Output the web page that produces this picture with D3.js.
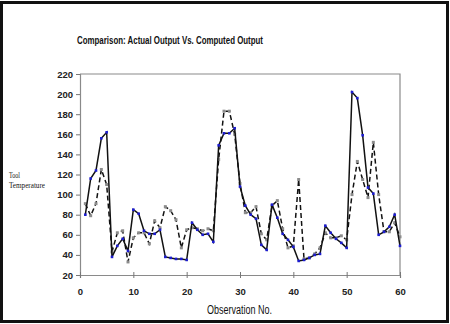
<!DOCTYPE html>
<html>
<head>
<meta charset="utf-8">
<script src="https://cdn.jsdelivr.net/npm/d3@7"></script>
<style>
  body { margin: 0; background: #fff; }
  svg { display: block; }
</style>
</head>
<body>
<div id="chart"></div>
<script>
/* values, observation 1..60 */
var actual = [80, 116, 124, 156, 162, 38, 49, 56, 44, 85,
              81, 64, 61, 61, 65, 38, 37, 36, 36, 35,
              72, 65, 60, 61, 53, 149, 161, 161, 166, 108,
              89, 80, 76, 50, 45, 90, 77, 61, 55, 48,
              34, 35, 37, 40, 41, 69, 62, 56, 52, 47,
              202, 196, 159, 107, 101, 60, 63, 68, 80, 49];
var computed = [91, 79, 91, 125, 110, 43, 62, 64, 33, 57,
                62, 62, 51, 74, 67, 88, 84, 75, 47, 65,
                67, 66, 64, 66, 64, 135, 183, 183, 160, 111,
                82, 82, 88, 61, 55, 89, 94, 66, 47, 49,
                115, 36, 37, 41, 47, 62, 57, 57, 59, 55,
                100, 133, 115, 97, 152, 100, 63, 63, 72, 58];
var xTicks = [0, 10, 20, 30, 40, 50, 60];
var yTicks = [20, 40, 60, 80, 100, 120, 140, 160, 180, 200, 220];

var W = 450, H = 324;
var svg = d3.select("#chart").append("svg")
    .attr("width", W).attr("height", H);

/* outer frame */
svg.append("rect")
    .attr("x", 1.5).attr("y", 2.5)
    .attr("width", 446).attr("height", 319)
    .attr("fill", "#fff").attr("stroke", "#111").attr("stroke-width", 3);

var x = d3.scaleLinear().domain([0, 60]).range([80, 400]);
var y = d3.scaleLinear().domain([20, 220]).range([275, 74]);

var narrow = "'Liberation Sans Narrow', 'Arial Narrow', 'Liberation Sans', Arial, sans-serif";

/* plot frame: top + right */
svg.append("path")
    .attr("d", "M" + x(0) + "," + y(220) + "H" + x(60) + "V" + y(20))
    .attr("fill", "none").attr("stroke", "#8a8a8a").attr("stroke-width", 1.2);

/* axes */
var yAxis = svg.append("g")
    .attr("transform", "translate(" + x(0) + ",0)")
    .call(d3.axisLeft(y).tickValues(yTicks).tickSize(4).tickPadding(3));
var xAxis = svg.append("g")
    .attr("transform", "translate(0," + y(20) + ")")
    .call(d3.axisBottom(x).tickValues(xTicks).tickSize(3).tickPadding(10));

[xAxis, yAxis].forEach(function (g) {
  g.select(".domain").attr("stroke", "#8a8a8a").attr("stroke-width", 1.2);
  g.selectAll(".tick line").attr("stroke", "#777");
  g.selectAll(".tick text")
      .style("font-family", narrow)
      .style("font-size", "9.5px")
      .style("font-weight", "bold")
      .attr("fill", "#222");
});
xAxis.selectAll(".tick line").attr("y1", -3);

/* lines */
var line = d3.line()
    .x(function (d, i) { return x(i + 1); })
    .y(function (d) { return y(d); });

svg.append("path").datum(computed)
    .attr("d", line)
    .attr("fill", "none").attr("stroke", "#111")
    .attr("stroke-width", 1.5).attr("stroke-dasharray", "5,3");

svg.selectAll("rect.comp").data(computed).enter().append("rect")
    .attr("class", "comp")
    .attr("x", function (d, i) { return x(i + 1) - 1.5; })
    .attr("y", function (d) { return y(d) - 1.5; })
    .attr("width", 3).attr("height", 3)
    .attr("fill", "#8c8c8c");

svg.append("path").datum(actual)
    .attr("d", line)
    .attr("fill", "none").attr("stroke", "#111")
    .attr("stroke-width", 1.5);

svg.selectAll("rect.act").data(actual).enter().append("rect")
    .attr("class", "act")
    .attr("x", function (d, i) { return x(i + 1) - 1.3; })
    .attr("y", function (d) { return y(d) - 1.3; })
    .attr("width", 2.6).attr("height", 2.6)
    .attr("fill", "#1c1cd0");

/* texts */
svg.append("text")
    .attr("x", 77).attr("y", 44)
    .attr("textLength", 186).attr("lengthAdjust", "spacingAndGlyphs")
    .style("font-family", narrow)
    .style("font-size", "11.5px")
    .style("font-weight", "bold")
    .attr("fill", "#111")
    .text("Comparison: Actual Output  Vs. Computed Output");

svg.append("text")
    .attr("x", 207).attr("y", 314)
    .attr("textLength", 65).attr("lengthAdjust", "spacingAndGlyphs")
    .style("font-family", narrow)
    .style("font-size", "12.5px")
    .attr("fill", "#111")
    .text("Observation No.");

var serif = "'Liberation Serif', 'DejaVu Serif', serif";
svg.append("text")
    .attr("x", 9).attr("y", 178)
    .attr("textLength", 11).attr("lengthAdjust", "spacingAndGlyphs")
    .style("font-family", serif).style("font-size", "7.5px")
    .attr("fill", "#111")
    .text("Tool");
svg.append("text")
    .attr("x", 9).attr("y", 188)
    .attr("textLength", 36).attr("lengthAdjust", "spacingAndGlyphs")
    .style("font-family", serif).style("font-size", "7.5px")
    .attr("fill", "#111")
    .text("Temperature");
</script>
</body>
</html>
